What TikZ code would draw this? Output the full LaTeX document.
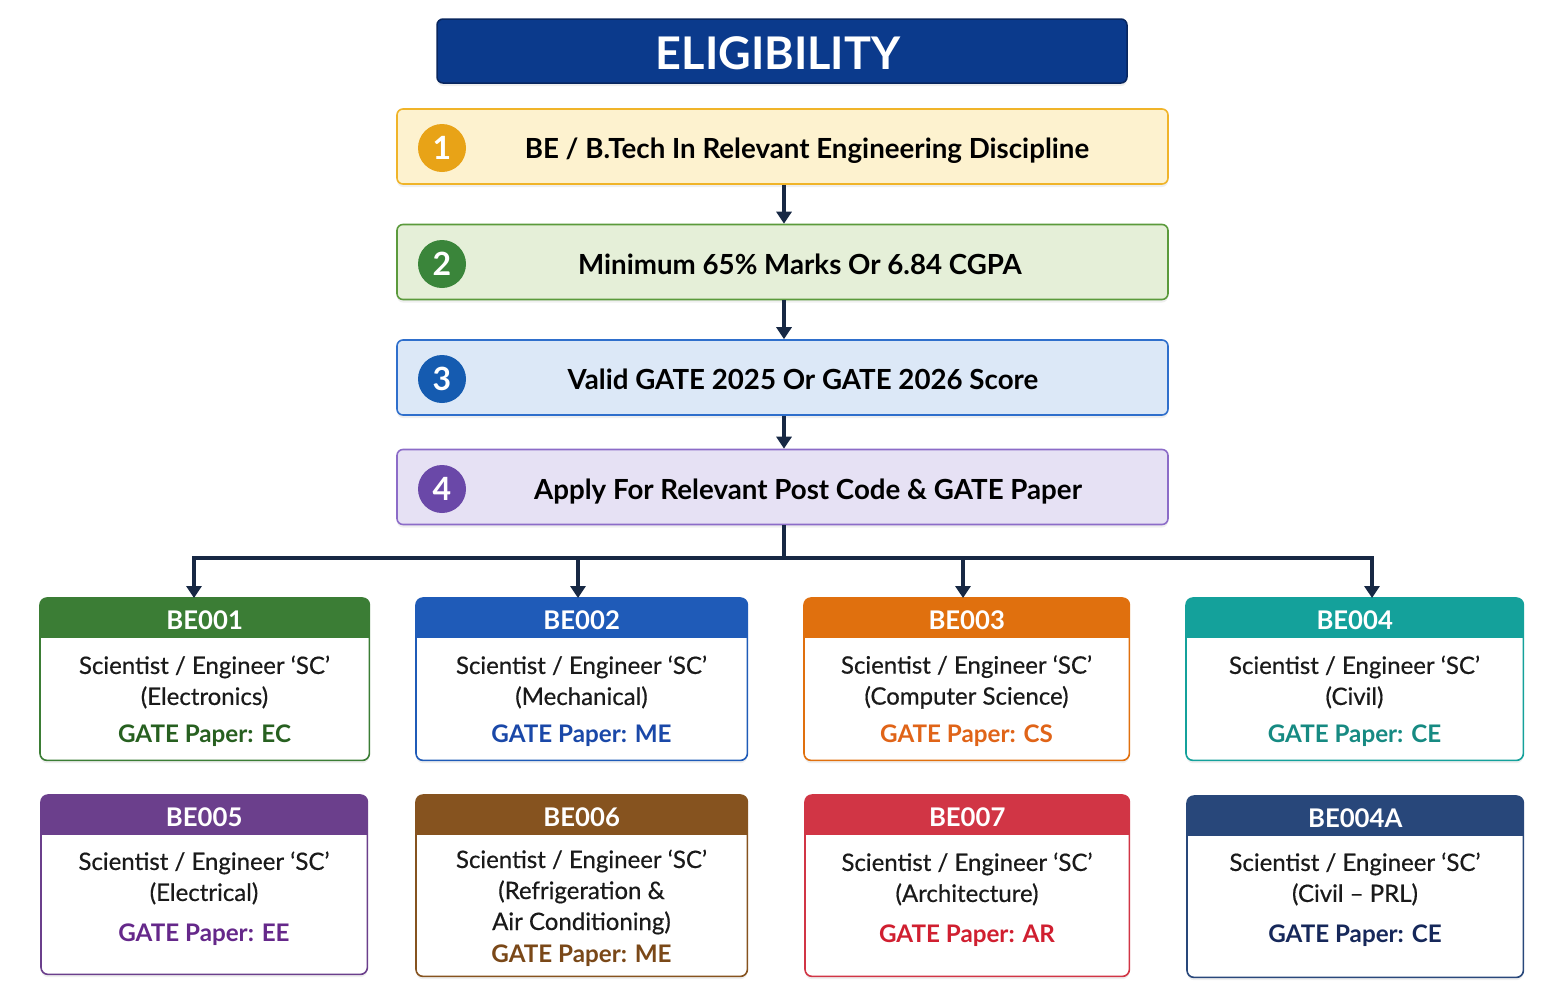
\documentclass[tikz,border=0pt]{standalone}
\usepackage{fontspec}
\setmainfont{Lato}
\newfontfamily\medfont[FakeBold=0.5]{Lato}
\usetikzlibrary{arrows.meta,shadows,calc}

% palette
\definecolor{navy}{HTML}{0B3A8C}
\definecolor{navyedge}{HTML}{08265E}
\definecolor{linkcol}{HTML}{172844}
\definecolor{bodyink}{HTML}{1A1A1A}
\definecolor{sfillA}{HTML}{FDF2CF}\definecolor{sedgeA}{HTML}{F0B429}\definecolor{sdotA}{HTML}{E8A317}
\definecolor{sfillB}{HTML}{E5EFD8}\definecolor{sedgeB}{HTML}{5B9A3C}\definecolor{sdotB}{HTML}{3A853A}
\definecolor{sfillC}{HTML}{DCE8F7}\definecolor{sedgeC}{HTML}{2F6FCC}\definecolor{sdotC}{HTML}{155BB0}
\definecolor{sfillD}{HTML}{E6E1F4}\definecolor{sedgeD}{HTML}{8C6CC8}\definecolor{sdotD}{HTML}{6A48A8}
\definecolor{kA}{HTML}{3B7D35}\definecolor{pA}{HTML}{276020}
\definecolor{kB}{HTML}{1F5BB8}\definecolor{pB}{HTML}{1A48A8}
\definecolor{kC}{HTML}{E0700E}\definecolor{pC}{HTML}{E06418}
\definecolor{kD}{HTML}{14A19B}\definecolor{pD}{HTML}{168A82}
\definecolor{kE}{HTML}{6B3F8C}\definecolor{pE}{HTML}{65288A}
\definecolor{kF}{HTML}{86531F}\definecolor{pF}{HTML}{7A4818}
\definecolor{kG}{HTML}{D13545}\definecolor{pG}{HTML}{D01F30}
\definecolor{kH}{HTML}{28477A}\definecolor{pH}{HTML}{16285A}

\tikzset{
  softshadow/.style={drop shadow={opacity=0.12, shadow xshift=0pt, shadow yshift=-3pt}},
  titlebox/.style={rectangle, rounded corners=6pt, fill=navy, draw=navyedge, line width=1.5pt,
    minimum width=690pt, minimum height=64pt, softshadow},
  titletext/.style={text=white, font=\fontsize{45}{50}\selectfont\bfseries},
  stepbox/.style={rectangle, rounded corners=6pt, line width=1.6pt,
    minimum width=771pt, minimum height=75pt, softshadow},
  steptext/.style={font=\fontsize{27.7}{32}\selectfont\bfseries, text=black},
  stepdot/.style={circle, minimum size=48pt, inner sep=0pt, text=white,
    font=\fontsize{32}{34}\selectfont\bfseries},
  link/.style={draw=linkcol, line width=4pt},
  arr/.style={link, -{Triangle[width=15pt,length=12pt]}},
  cardbox/.style={rectangle, rounded corners=7pt, fill=white, inner sep=0pt, softshadow},
  headtext/.style={text=white, font=\fontsize{25.7}{28}\selectfont\bfseries},
  bodytext/.style={align=center, text=bodyink, font=\medfont\fontsize{24}{31}\selectfont},
  papertext/.style={font=\fontsize{24.2}{28}\selectfont\bfseries}
}

% card outline with a coloured header band and its code
\newcommand\postcard[7]{% name, x1, y1, x2, y2, colour, code
  \node[cardbox, minimum width={#4-#2}, minimum height={#5-#3}, anchor=north west] (#1) at (#2,#3) {};
  \begin{scope}
    \clip[rounded corners=7pt] (#1.south west) rectangle (#1.north east);
    \fill[#6] (#1.north west) rectangle ([yshift=-40pt]#1.north east);
  \end{scope}
  \draw[#6, line width=1.6pt, rounded corners=7pt] (#1.south west) rectangle (#1.north east);
  \node[headtext] (#1h) at ([yshift=-22.5pt]#1.north) {#7};
}

\begin{document}
\begin{tikzpicture}[x=1pt,y=-1pt]
\useasboundingbox[fill=white] (0,0) rectangle (1566,1005);

% heading
\node[titlebox] (title) at (782,51) {};
\node[titletext] (titlet) at (778,53) {ELIGIBILITY};

% the four eligibility steps
\node[stepbox, fill=sfillA, draw=sedgeA] (s1) at (782.5,146.5) {};
\node[stepdot, fill=sdotA] (n1) at (442,148) {1};
\node[steptext] (t1) at (807,151) {BE / B.Tech In Relevant Engineering Discipline};

\node[stepbox, fill=sfillB, draw=sedgeB] (s2) at (782.5,262) {};
\node[stepdot, fill=sdotB] (n2) at (442,264) {2};
\node[steptext] (t2) at (800,264) {Minimum 65\% Marks Or 6.84 CGPA};

\node[stepbox, fill=sfillC, draw=sedgeC] (s3) at (782.5,377.5) {};
\node[stepdot, fill=sdotC] (n3) at (442,379) {3};
\node[steptext] (t3) at (803,379.5) {Valid GATE 2025 Or GATE 2026 Score};

\node[stepbox, fill=sfillD, draw=sedgeD] (s4) at (782.5,487) {};
\node[stepdot, fill=sdotD] (n4) at (442,489) {4};
\node[steptext] (t4) at (808,492) {Apply For Relevant Post Code \& GATE Paper};

\draw[arr] (s1.south -| 784,0) -- (s2.north -| 784,0);
\draw[arr] (s2.south -| 784,0) -- (s3.north -| 784,0);
\draw[arr] (s3.south -| 784,0) -- (s4.north -| 784,0);

% post codes
\postcard{c1}{40}{598}{369}{760}{kA}{BE001}
\node[bodytext] (c1b) at (204.5,682) {Scientist / Engineer ‘SC’\\(Electronics)};
\node[papertext, text=pA] (c1p) at (204.5,736) {GATE Paper: EC};

\postcard{c2}{416}{598}{747}{760}{kB}{BE002}
\node[bodytext] (c2b) at (581.5,682) {Scientist / Engineer ‘SC’\\(Mechanical)};
\node[papertext, text=pB] (c2p) at (581.5,736) {GATE Paper: ME};

\postcard{c3}{804}{598}{1129}{760}{kC}{BE003}
\node[bodytext] (c3b) at (966.5,682) {Scientist / Engineer ‘SC’\\(Computer Science)};
\node[papertext, text=pC] (c3p) at (966.5,736) {GATE Paper: CS};

\postcard{c4}{1186}{598}{1523}{760}{kD}{BE004}
\node[bodytext] (c4b) at (1354.5,682) {Scientist / Engineer ‘SC’\\(Civil)};
\node[papertext, text=pD] (c4p) at (1354.5,736) {GATE Paper: CE};

\postcard{c5}{41}{795}{367}{974}{kE}{BE005}
\node[bodytext] (c5b) at (204,878) {Scientist / Engineer ‘SC’\\(Electrical)};
\node[papertext, text=pE] (c5p) at (204,935) {GATE Paper: EE};

\postcard{c6}{416}{795}{747}{976}{kF}{BE006}
\node[bodytext] (c6b) at (581.5,892) {Scientist / Engineer ‘SC’\\(Refrigeration \&\\Air Conditioning)};
\node[papertext, text=pF] (c6p) at (581.5,956) {GATE Paper: ME};

\postcard{c7}{805}{795}{1129}{976}{kG}{BE007}
\node[bodytext] (c7b) at (967,879) {Scientist / Engineer ‘SC’\\(Architecture)};
\node[papertext, text=pG] (c7p) at (967,936) {GATE Paper: AR};

\postcard{c8}{1187}{796}{1523}{977}{kH}{BE004A}
\node[bodytext] (c8b) at (1355,879) {Scientist / Engineer ‘SC’\\(Civil – PRL)};
\node[papertext, text=pH] (c8p) at (1355,936) {GATE Paper: CE};

% distribution from the last step to the first row of posts
\coordinate (split) at (784,558);
\coordinate (d1) at (194,558);
\coordinate (d2) at (578,558);
\coordinate (d3) at (963,558);
\coordinate (d4) at (1372,558);
\draw[link] (s4.south -| split) -- (split);
\draw[link, line cap=rect] (d1) -- (d4);
\draw[arr] (d1) -- (d1 |- c1.north);
\draw[arr] (d2) -- (d2 |- c2.north);
\draw[arr] (d3) -- (d3 |- c3.north);
\draw[arr] (d4) -- (d4 |- c4.north);
\end{tikzpicture}
\end{document}
